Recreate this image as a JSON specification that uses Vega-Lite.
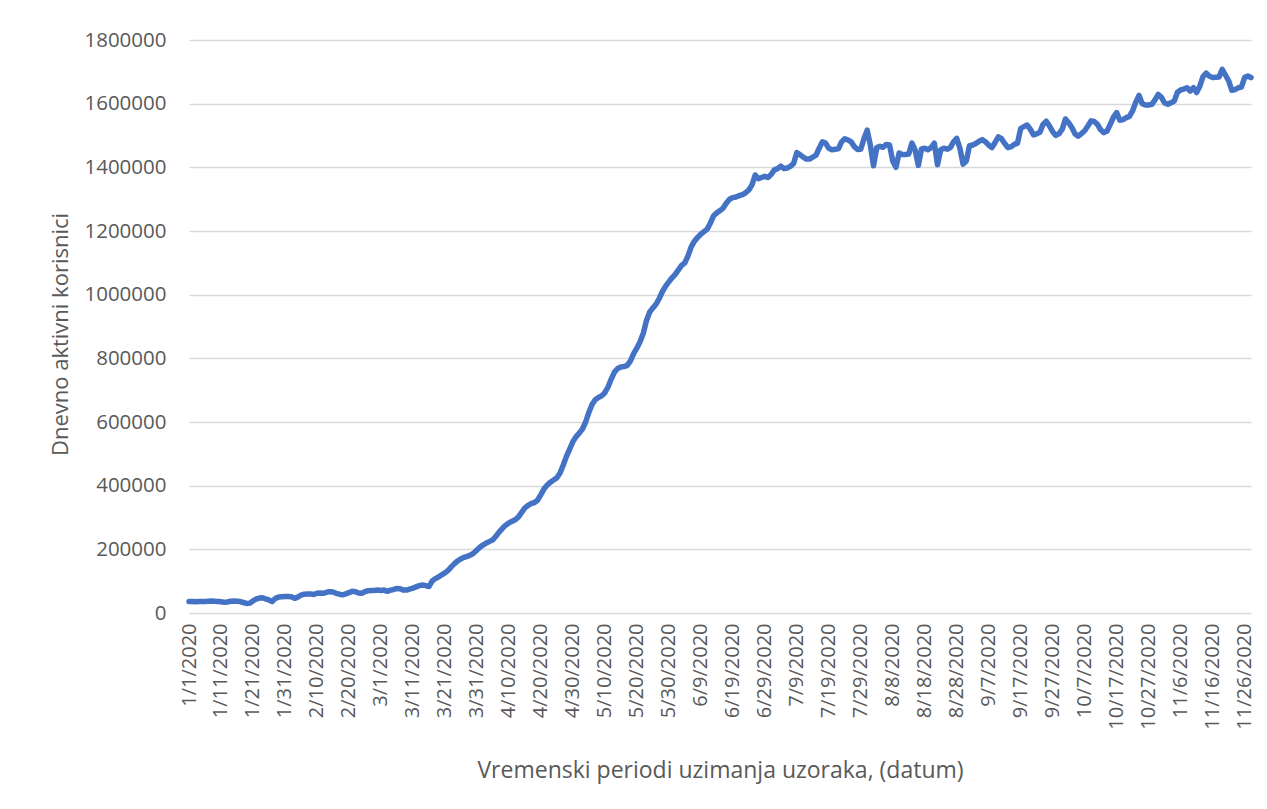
{
"$schema": "https://vega.github.io/schema/vega-lite/v6.json",
"width": 1062, "height": 573,
"autosize": {"type": "none"},
"padding": {"left": 189, "top": 40, "right": 16, "bottom": 196},
"background": "white",
"config": {"view": {"stroke": null}, "font": "Open Sans"},
"data": {"values": [
{"d":"1/1/2020","v":36500},{"d":"1/2/2020","v":36000},{"d":"1/3/2020","v":35500},{"d":"1/4/2020","v":36000},{"d":"1/5/2020","v":36500},{"d":"1/6/2020","v":36000},{"d":"1/7/2020","v":37000},{"d":"1/8/2020","v":37500},{"d":"1/9/2020","v":37000},{"d":"1/10/2020","v":36000},
{"d":"1/11/2020","v":35000},{"d":"1/12/2020","v":34000},{"d":"1/13/2020","v":34500},{"d":"1/14/2020","v":37000},{"d":"1/15/2020","v":38000},{"d":"1/16/2020","v":37000},{"d":"1/17/2020","v":36000},{"d":"1/18/2020","v":33000},{"d":"1/19/2020","v":30000},{"d":"1/20/2020","v":31000},
{"d":"1/21/2020","v":38000},{"d":"1/22/2020","v":44000},{"d":"1/23/2020","v":47000},{"d":"1/24/2020","v":48000},{"d":"1/25/2020","v":44000},{"d":"1/26/2020","v":41000},{"d":"1/27/2020","v":36000},{"d":"1/28/2020","v":46000},{"d":"1/29/2020","v":50000},{"d":"1/30/2020","v":51000},{"d":"1/31/2020","v":52000},
{"d":"2/1/2020","v":52000},{"d":"2/2/2020","v":51000},{"d":"2/3/2020","v":46000},{"d":"2/4/2020","v":50000},{"d":"2/5/2020","v":56000},{"d":"2/6/2020","v":59000},{"d":"2/7/2020","v":60000},{"d":"2/8/2020","v":60000},{"d":"2/9/2020","v":58000},{"d":"2/10/2020","v":62000},
{"d":"2/11/2020","v":63000},{"d":"2/12/2020","v":62000},{"d":"2/13/2020","v":65000},{"d":"2/14/2020","v":67000},{"d":"2/15/2020","v":66000},{"d":"2/16/2020","v":62000},{"d":"2/17/2020","v":59000},{"d":"2/18/2020","v":57000},{"d":"2/19/2020","v":60000},{"d":"2/20/2020","v":64000},
{"d":"2/21/2020","v":68000},{"d":"2/22/2020","v":67000},{"d":"2/23/2020","v":63000},{"d":"2/24/2020","v":62000},{"d":"2/25/2020","v":67000},{"d":"2/26/2020","v":70000},{"d":"2/27/2020","v":71000},{"d":"2/28/2020","v":71000},{"d":"2/29/2020","v":72000},
{"d":"3/1/2020","v":71000},{"d":"3/2/2020","v":72000},{"d":"3/3/2020","v":68000},{"d":"3/4/2020","v":72000},{"d":"3/5/2020","v":74000},{"d":"3/6/2020","v":77000},{"d":"3/7/2020","v":76000},{"d":"3/8/2020","v":72000},{"d":"3/9/2020","v":72000},{"d":"3/10/2020","v":75000},
{"d":"3/11/2020","v":78000},{"d":"3/12/2020","v":82000},{"d":"3/13/2020","v":86000},{"d":"3/14/2020","v":88000},{"d":"3/15/2020","v":86000},{"d":"3/16/2020","v":83000},{"d":"3/17/2020","v":100000},{"d":"3/18/2020","v":108000},{"d":"3/19/2020","v":113000},{"d":"3/20/2020","v":120000},
{"d":"3/21/2020","v":126000},{"d":"3/22/2020","v":134000},{"d":"3/23/2020","v":145000},{"d":"3/24/2020","v":155000},{"d":"3/25/2020","v":164000},{"d":"3/26/2020","v":170000},{"d":"3/27/2020","v":175000},{"d":"3/28/2020","v":178000},{"d":"3/29/2020","v":182000},{"d":"3/30/2020","v":188000},{"d":"3/31/2020","v":198000},
{"d":"4/1/2020","v":207000},{"d":"4/2/2020","v":214000},{"d":"4/3/2020","v":220000},{"d":"4/4/2020","v":225000},{"d":"4/5/2020","v":230000},{"d":"4/6/2020","v":242000},{"d":"4/7/2020","v":255000},{"d":"4/8/2020","v":266000},{"d":"4/9/2020","v":276000},{"d":"4/10/2020","v":283000},
{"d":"4/11/2020","v":288000},{"d":"4/12/2020","v":293000},{"d":"4/13/2020","v":302000},{"d":"4/14/2020","v":316000},{"d":"4/15/2020","v":330000},{"d":"4/16/2020","v":338000},{"d":"4/17/2020","v":344000},{"d":"4/18/2020","v":347000},{"d":"4/19/2020","v":355000},{"d":"4/20/2020","v":372000},
{"d":"4/21/2020","v":390000},{"d":"4/22/2020","v":402000},{"d":"4/23/2020","v":411000},{"d":"4/24/2020","v":418000},{"d":"4/25/2020","v":425000},{"d":"4/26/2020","v":440000},{"d":"4/27/2020","v":465000},{"d":"4/28/2020","v":492000},{"d":"4/29/2020","v":515000},{"d":"4/30/2020","v":538000},
{"d":"5/1/2020","v":554000},{"d":"5/2/2020","v":565000},{"d":"5/3/2020","v":578000},{"d":"5/4/2020","v":600000},{"d":"5/5/2020","v":630000},{"d":"5/6/2020","v":655000},{"d":"5/7/2020","v":670000},{"d":"5/8/2020","v":677000},{"d":"5/9/2020","v":682000},{"d":"5/10/2020","v":692000},
{"d":"5/11/2020","v":710000},{"d":"5/12/2020","v":735000},{"d":"5/13/2020","v":757000},{"d":"5/14/2020","v":768000},{"d":"5/15/2020","v":773000},{"d":"5/16/2020","v":774000},{"d":"5/17/2020","v":778000},{"d":"5/18/2020","v":792000},{"d":"5/19/2020","v":815000},{"d":"5/20/2020","v":832000},
{"d":"5/21/2020","v":852000},{"d":"5/22/2020","v":878000},{"d":"5/23/2020","v":918000},{"d":"5/24/2020","v":945000},{"d":"5/25/2020","v":958000},{"d":"5/26/2020","v":970000},{"d":"5/27/2020","v":988000},{"d":"5/28/2020","v":1010000},{"d":"5/29/2020","v":1027000},{"d":"5/30/2020","v":1040000},{"d":"5/31/2020","v":1053000},
{"d":"6/1/2020","v":1064000},{"d":"6/2/2020","v":1078000},{"d":"6/3/2020","v":1092000},{"d":"6/4/2020","v":1100000},{"d":"6/5/2020","v":1122000},{"d":"6/6/2020","v":1150000},{"d":"6/7/2020","v":1168000},{"d":"6/8/2020","v":1180000},{"d":"6/9/2020","v":1190000},{"d":"6/10/2020","v":1198000},
{"d":"6/11/2020","v":1206000},{"d":"6/12/2020","v":1225000},{"d":"6/13/2020","v":1248000},{"d":"6/14/2020","v":1257000},{"d":"6/15/2020","v":1264000},{"d":"6/16/2020","v":1272000},{"d":"6/17/2020","v":1288000},{"d":"6/18/2020","v":1300000},{"d":"6/19/2020","v":1305000},{"d":"6/20/2020","v":1307000},
{"d":"6/21/2020","v":1311000},{"d":"6/22/2020","v":1314000},{"d":"6/23/2020","v":1320000},{"d":"6/24/2020","v":1329000},{"d":"6/25/2020","v":1345000},{"d":"6/26/2020","v":1376000},{"d":"6/27/2020","v":1364000},{"d":"6/28/2020","v":1368000},{"d":"6/29/2020","v":1372000},{"d":"6/30/2020","v":1368000},
{"d":"7/1/2020","v":1378000},{"d":"7/2/2020","v":1392000},{"d":"7/3/2020","v":1396000},{"d":"7/4/2020","v":1404000},{"d":"7/5/2020","v":1396000},{"d":"7/6/2020","v":1398000},{"d":"7/7/2020","v":1403000},{"d":"7/8/2020","v":1412000},{"d":"7/9/2020","v":1446000},{"d":"7/10/2020","v":1440000},
{"d":"7/11/2020","v":1432000},{"d":"7/12/2020","v":1426000},{"d":"7/13/2020","v":1426000},{"d":"7/14/2020","v":1432000},{"d":"7/15/2020","v":1438000},{"d":"7/16/2020","v":1460000},{"d":"7/17/2020","v":1480000},{"d":"7/18/2020","v":1476000},{"d":"7/19/2020","v":1460000},{"d":"7/20/2020","v":1455000},
{"d":"7/21/2020","v":1457000},{"d":"7/22/2020","v":1458000},{"d":"7/23/2020","v":1480000},{"d":"7/24/2020","v":1490000},{"d":"7/25/2020","v":1486000},{"d":"7/26/2020","v":1480000},{"d":"7/27/2020","v":1465000},{"d":"7/28/2020","v":1456000},{"d":"7/29/2020","v":1457000},{"d":"7/30/2020","v":1490000},{"d":"7/31/2020","v":1517000},
{"d":"8/1/2020","v":1470000},{"d":"8/2/2020","v":1405000},{"d":"8/3/2020","v":1462000},{"d":"8/4/2020","v":1466000},{"d":"8/5/2020","v":1463000},{"d":"8/6/2020","v":1472000},{"d":"8/7/2020","v":1470000},{"d":"8/8/2020","v":1420000},{"d":"8/9/2020","v":1400000},{"d":"8/10/2020","v":1445000},
{"d":"8/11/2020","v":1440000},{"d":"8/12/2020","v":1440000},{"d":"8/13/2020","v":1442000},{"d":"8/14/2020","v":1476000},{"d":"8/15/2020","v":1455000},{"d":"8/16/2020","v":1406000},{"d":"8/17/2020","v":1458000},{"d":"8/18/2020","v":1460000},{"d":"8/19/2020","v":1455000},{"d":"8/20/2020","v":1462000},
{"d":"8/21/2020","v":1476000},{"d":"8/22/2020","v":1408000},{"d":"8/23/2020","v":1455000},{"d":"8/24/2020","v":1460000},{"d":"8/25/2020","v":1457000},{"d":"8/26/2020","v":1462000},{"d":"8/27/2020","v":1480000},{"d":"8/28/2020","v":1491000},{"d":"8/29/2020","v":1460000},{"d":"8/30/2020","v":1410000},{"d":"8/31/2020","v":1420000},
{"d":"9/1/2020","v":1468000},{"d":"9/2/2020","v":1470000},{"d":"9/3/2020","v":1475000},{"d":"9/4/2020","v":1482000},{"d":"9/5/2020","v":1487000},{"d":"9/6/2020","v":1480000},{"d":"9/7/2020","v":1470000},{"d":"9/8/2020","v":1462000},{"d":"9/9/2020","v":1478000},{"d":"9/10/2020","v":1496000},
{"d":"9/11/2020","v":1490000},{"d":"9/12/2020","v":1475000},{"d":"9/13/2020","v":1462000},{"d":"9/14/2020","v":1465000},{"d":"9/15/2020","v":1472000},{"d":"9/16/2020","v":1476000},{"d":"9/17/2020","v":1522000},{"d":"9/18/2020","v":1528000},{"d":"9/19/2020","v":1533000},{"d":"9/20/2020","v":1520000},
{"d":"9/21/2020","v":1502000},{"d":"9/22/2020","v":1505000},{"d":"9/23/2020","v":1510000},{"d":"9/24/2020","v":1535000},{"d":"9/25/2020","v":1545000},{"d":"9/26/2020","v":1530000},{"d":"9/27/2020","v":1512000},{"d":"9/28/2020","v":1500000},{"d":"9/29/2020","v":1506000},{"d":"9/30/2020","v":1520000},
{"d":"10/1/2020","v":1552000},{"d":"10/2/2020","v":1540000},{"d":"10/3/2020","v":1525000},{"d":"10/4/2020","v":1505000},{"d":"10/5/2020","v":1498000},{"d":"10/6/2020","v":1506000},{"d":"10/7/2020","v":1515000},{"d":"10/8/2020","v":1530000},{"d":"10/9/2020","v":1546000},{"d":"10/10/2020","v":1544000},
{"d":"10/11/2020","v":1535000},{"d":"10/12/2020","v":1518000},{"d":"10/13/2020","v":1509000},{"d":"10/14/2020","v":1514000},{"d":"10/15/2020","v":1535000},{"d":"10/16/2020","v":1558000},{"d":"10/17/2020","v":1572000},{"d":"10/18/2020","v":1548000},{"d":"10/19/2020","v":1550000},{"d":"10/20/2020","v":1556000},
{"d":"10/21/2020","v":1560000},{"d":"10/22/2020","v":1578000},{"d":"10/23/2020","v":1605000},{"d":"10/24/2020","v":1626000},{"d":"10/25/2020","v":1600000},{"d":"10/26/2020","v":1596000},{"d":"10/27/2020","v":1596000},{"d":"10/28/2020","v":1598000},{"d":"10/29/2020","v":1612000},{"d":"10/30/2020","v":1629000},{"d":"10/31/2020","v":1620000},
{"d":"11/1/2020","v":1602000},{"d":"11/2/2020","v":1598000},{"d":"11/3/2020","v":1603000},{"d":"11/4/2020","v":1608000},{"d":"11/5/2020","v":1636000},{"d":"11/6/2020","v":1643000},{"d":"11/7/2020","v":1646000},{"d":"11/8/2020","v":1650000},{"d":"11/9/2020","v":1640000},{"d":"11/10/2020","v":1650000},
{"d":"11/11/2020","v":1635000},{"d":"11/12/2020","v":1655000},{"d":"11/13/2020","v":1685000},{"d":"11/14/2020","v":1696000},{"d":"11/15/2020","v":1686000},{"d":"11/16/2020","v":1682000},{"d":"11/17/2020","v":1683000},{"d":"11/18/2020","v":1684000},{"d":"11/19/2020","v":1708000},{"d":"11/20/2020","v":1690000},
{"d":"11/21/2020","v":1672000},{"d":"11/22/2020","v":1642000},{"d":"11/23/2020","v":1644000},{"d":"11/24/2020","v":1650000},{"d":"11/25/2020","v":1652000},{"d":"11/26/2020","v":1682000},{"d":"11/27/2020","v":1687000},{"d":"11/28/2020","v":1682000}
]},
"mark": {"type": "line", "color": "#4472C4", "strokeWidth": 5.5, "strokeJoin": "round", "strokeCap": "round"},
"encoding": {
"x": {"field": "d", "type": "ordinal", "sort": null, "scale": {"type": "point", "padding": 0},
 "axis": {"values": ["1/1/2020","1/11/2020","1/21/2020","1/31/2020","2/10/2020","2/20/2020","3/1/2020","3/11/2020","3/21/2020","3/31/2020","4/10/2020","4/20/2020","4/30/2020","5/10/2020","5/20/2020","5/30/2020","6/9/2020","6/19/2020","6/29/2020","7/9/2020","7/19/2020","7/29/2020","8/8/2020","8/18/2020","8/28/2020","9/7/2020","9/17/2020","9/27/2020","10/7/2020","10/17/2020","10/27/2020","11/6/2020","11/16/2020","11/26/2020"],
  "labelAngle": -90, "labelFontSize": 20, "labelColor": "#595959", "ticks": false, "domain": false, "grid": false, "labelPadding": 10,
  "title": "Vremenski periodi uzimanja uzoraka, (datum)", "titleFontSize": 23, "titleFontWeight": "normal", "titleColor": "#595959", "titleY": 157, "titleBaseline": "middle"}},
"y": {"field": "v", "type": "quantitative", "scale": {"domain": [0, 1800000], "nice": false},
 "axis": {"values": [0,200000,400000,600000,800000,1000000,1200000,1400000,1600000,1800000], "format": "d", "labelFontSize": 20.5, "labelColor": "#595959", "ticks": false, "domain": false, "labelPadding": 23, "gridColor": "#d9d9d9", "gridWidth": 1.5,
  "title": "Dnevno aktivni korisnici", "titleFontSize": 22, "titleFontWeight": "normal", "titleColor": "#595959", "titleX": -129, "titleY": 294, "titleBaseline": "middle", "titleAngle": -90}}
}
}
